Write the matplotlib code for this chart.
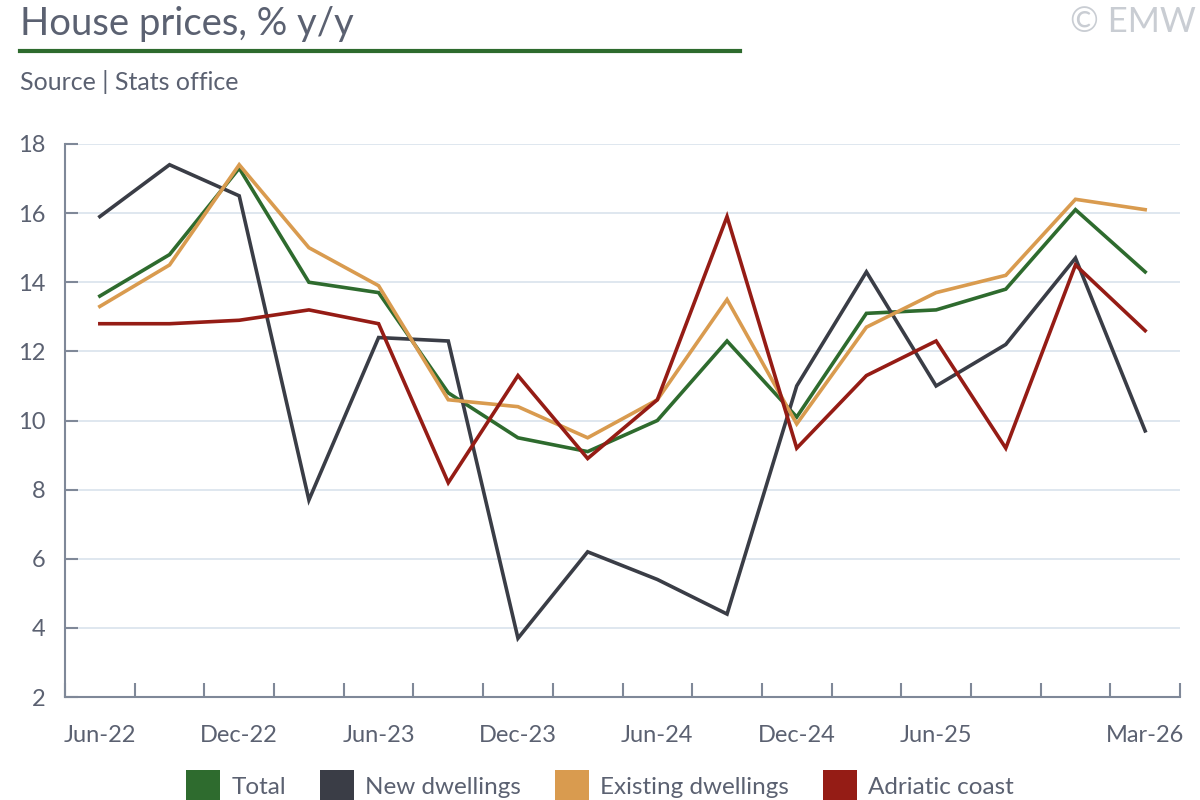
import matplotlib
matplotlib.use("Agg")
import matplotlib.pyplot as plt
from matplotlib.patches import Patch
import numpy as np

plt.rcParams['font.family'] = ['Lato', 'DejaVu Sans']

# quarterly data, Jun-22 .. Mar-26
quarters = ["Jun-22", "Sep-22", "Dec-22", "Mar-23", "Jun-23", "Sep-23", "Dec-23", "Mar-24",
            "Jun-24", "Sep-24", "Dec-24", "Mar-25", "Jun-25", "Sep-25", "Dec-25", "Mar-26"]
total = [13.6, 14.8, 17.3, 14.0, 13.7, 10.8, 9.5, 9.1, 10.0, 12.3, 10.1, 13.1, 13.2, 13.8, 16.1, 14.3]
new_dwellings = [15.9, 17.4, 16.5, 7.7, 12.4, 12.3, 3.7, 6.2, 5.4, 4.4, 11.0, 14.3, 11.0, 12.2, 14.7, 9.7]
existing = [13.3, 14.5, 17.4, 15.0, 13.9, 10.6, 10.4, 9.5, 10.6, 13.5, 9.9, 12.7, 13.7, 14.2, 16.4, 16.1]
adriatic = [12.8, 12.8, 12.9, 13.2, 12.8, 8.2, 11.3, 8.9, 10.6, 15.9, 9.2, 11.3, 12.3, 9.2, 14.5, 12.6]
label_idx = [0, 2, 4, 6, 8, 10, 12, 15]
yticks = [2, 4, 6, 8, 10, 12, 14, 16, 18]

series = [
    ("Total", total, "#2e6b2e"),
    ("New dwellings", new_dwellings, "#3a3d46"),
    ("Existing dwellings", existing, "#d99b4f"),
    ("Adriatic coast", adriatic, "#951c15"),
]

text_col = "#5b6171"
axis_col = "#7f8898"
grid_col = "#dce5ee"

fig = plt.figure(figsize=(12, 8), dpi=100)
ax = fig.add_axes([65 / 1200, 1 - 697 / 800, 1115 / 1200, 553 / 800])

x = np.arange(len(quarters))
for name, vals, c in series:
    ax.plot(x, vals, color=c, lw=2.6, solid_joinstyle="miter", label=name, zorder=3)

ax.set_xlim(-0.5, len(quarters) - 0.5)
ax.set_ylim(2, 18)
ax.set_yticks(yticks)
for y in yticks[1:]:
    ax.axhline(y, color=grid_col, lw=1.3, zorder=1)

ax.set_xticks(label_idx)
ax.set_xticklabels([quarters[i] for i in label_idx])
ax.set_xticks(np.arange(len(quarters) + 1) - 0.5, minor=True)
ax.tick_params(axis="x", which="major", length=0, pad=20, labelsize=17, labelcolor=text_col)
ax.tick_params(axis="x", which="minor", direction="in", length=10, width=1.5, color=axis_col)
ax.tick_params(axis="y", direction="in", length=9, width=1.5, color=axis_col,
               pad=14, labelsize=17, labelcolor=text_col)

for s in ["top", "right"]:
    ax.spines[s].set_visible(False)
for s in ["left", "bottom"]:
    ax.spines[s].set_color(axis_col)
    ax.spines[s].set_linewidth(1.5)

# header
fig.text(20 / 1200, 1 - 35 / 800, "House prices, % y/y", fontsize=27.5, color=text_col,
         va="baseline")
fig.add_artist(plt.Line2D([20 / 1200, 740 / 1200], [1 - 51 / 800, 1 - 51 / 800],
                          color="#2e6b2e", lw=3))
fig.text(20 / 1200, 1 - 90 / 800, "Source | Stats office", fontsize=18, color=text_col,
         va="baseline")
fig.text(1196 / 1200, 1 - 32 / 800, "© EMW", fontsize=25, color="#c9cdd3",
         ha="right", va="baseline")

handles = [Patch(facecolor=c, edgecolor="none") for _, _, c in series]
leg = fig.legend(handles, [n for n, _, _ in series], loc="lower center",
                 bbox_to_anchor=(0.5, -0.03), ncol=4, frameon=False, fontsize=17.5,
                 handlelength=1.4, handleheight=1.65, handletextpad=0.45,
                 columnspacing=1.4)
for t in leg.get_texts():
    t.set_color(text_col)

fig.savefig("out.png", dpi=100)
